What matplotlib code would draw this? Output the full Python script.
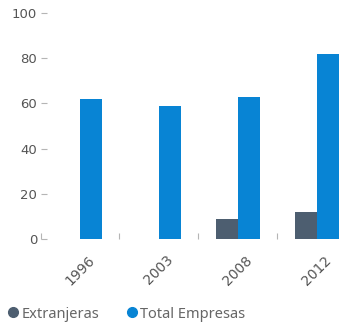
import matplotlib
matplotlib.use("Agg")
import matplotlib.pyplot as plt
from matplotlib.lines import Line2D
import numpy as np

years = ["1996", "2003", "2008", "2012"]
extranjeras = [0, 0, 9, 12]
total_empresas = [62, 59, 63, 82]
series_names = ["Extranjeras", "Total Empresas"]
y_ticks = [0, 20, 40, 60, 80, 100]

c_dark = "#4d5e70"
c_blue = "#0884d4"
c_text = "#555555"
c_tick = "#b5b5b5"

fig = plt.figure(figsize=(3.46, 3.24), dpi=100)
ax = fig.add_axes([40.5 / 346, 85 / 324, (346 - 40.5) / 346, 226 / 324])

x = np.arange(len(years))
w = 0.275
ax.bar(x - w / 2, extranjeras, width=w, color=c_dark, label=series_names[0])
ax.bar(x + w / 2, total_empresas, width=w, color=c_blue, label=series_names[1])

ax.set_xlim(-0.5, 3.37)
ax.set_ylim(0, 100)
for s in ax.spines.values():
    s.set_visible(False)

ax.set_yticks(y_ticks)
ax.set_yticklabels([str(v) for v in y_ticks])
ax.tick_params(axis="y", direction="in", length=4, width=0.8, color=c_tick,
               labelcolor=c_text, labelsize=9.5, pad=2.5)

ax.set_xticks(x)
ax.set_xticklabels(years, rotation=45, ha="center", va="top")
ax.tick_params(axis="x", which="major", length=0, labelcolor=c_text,
               labelsize=10, pad=10)
ax.set_xticks([-0.5, 0.5, 1.5, 2.5], minor=True)
ax.tick_params(axis="x", which="minor", direction="in", length=4, width=0.8,
               color=c_tick)

handles = [
    Line2D([], [], marker="o", linestyle="none", markersize=7,
           markerfacecolor=c_dark, markeredgecolor=c_dark),
    Line2D([], [], marker="o", linestyle="none", markersize=7,
           markerfacecolor=c_blue, markeredgecolor=c_blue),
]
leg = fig.legend(handles, series_names, loc="center left",
                 bbox_to_anchor=(0.0, 10 / 324), ncol=2, frameon=False,
                 borderaxespad=0.0, handletextpad=0.05, columnspacing=1.8,
                 handlelength=1.0,
                 prop={"family": "Noto Sans", "size": 10.5})
for t in leg.get_texts():
    t.set_color("#666666")

fig.savefig("out.png", dpi=100)
